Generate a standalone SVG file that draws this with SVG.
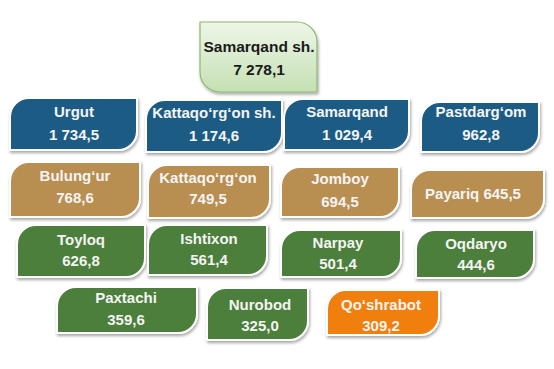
<svg xmlns="http://www.w3.org/2000/svg" width="554" height="369" viewBox="0 0 554 369">
<defs>
<linearGradient id="gTop" x1="0" y1="0" x2="0" y2="1">
<stop offset="0" stop-color="#EEF6E8"/>
<stop offset="1" stop-color="#C5E0B3"/>
</linearGradient>
<filter id="sh" x="-10%" y="-10%" width="125%" height="135%">
<feDropShadow dx="1" dy="2" stdDeviation="1.6" flood-color="#000" flood-opacity="0.35"/>
</filter>
<style>
.box{stroke:#FFFFFF;stroke-width:2;filter:url(#sh)}
.blue{fill:#1F5B84}
.tan{fill:#B98E51}
.green{fill:#4B7F3B}
.orange{fill:#F07F0A}
.top{fill:url(#gTop);stroke:#8DB870;stroke-width:1.2;filter:url(#sh)}
text{font-family:"Liberation Sans",Arial,sans-serif;font-weight:bold;text-anchor:middle}
.t{font-size:15px;fill:#F4F4F4}
.tt{font-size:15.5px;fill:#1A1A1A}
</style>
</defs>
<g id="connectors"></g>
<g id="n-samarqand-sh">
<path class="top" d="M200,22 H297 A20,20 0 0 1 317,42 V92 H220 A20,20 0 0 1 200,72 Z"/>
<text class="tt" x="259" y="52">Samarqand sh.</text>
<text class="tt" x="259" y="75">7 278,1</text>
</g>
<g id="n-urgut">
<path class="box blue" d="M29,98 H137 V131 A19,19 0 0 1 118,150 H10 V117 A19,19 0 0 1 29,98 Z"/>
<text class="t" x="74" y="117">Urgut</text>
<text class="t" x="74" y="140">1 734,5</text>
</g>
<g id="n-kattaqorgon-sh">
<path class="box blue" d="M165,100 H282 V133 A19,19 0 0 1 263,152 H146 V119 A19,19 0 0 1 165,100 Z"/>
<text class="t" x="214" y="118">Kattaqo‘rg‘on sh.</text>
<text class="t" x="214" y="141">1 174,6</text>
</g>
<g id="n-samarqand">
<path class="box blue" d="M303,99 H409 V131 A19,19 0 0 1 390,150 H284 V118 A19,19 0 0 1 303,99 Z"/>
<text class="t" x="347" y="117">Samarqand</text>
<text class="t" x="347" y="140">1 029,4</text>
</g>
<g id="n-pastdargom">
<path class="box blue" d="M440,102 H539 V133 A19,19 0 0 1 520,152 H421 V121 A19,19 0 0 1 440,102 Z"/>
<text class="t" x="481" y="117">Pastdarg‘om</text>
<text class="t" x="481" y="140">962,8</text>
</g>
<g id="n-bulungur">
<path class="box tan" d="M29,162 H140 V198 A19,19 0 0 1 121,217 H10 V181 A19,19 0 0 1 29,162 Z"/>
<text class="t" x="75" y="181">Bulung‘ur</text>
<text class="t" x="75" y="203">768,6</text>
</g>
<g id="n-kattaqorgon">
<path class="box tan" d="M167,165 H270 V199 A19,19 0 0 1 251,218 H148 V184 A19,19 0 0 1 167,165 Z"/>
<text class="t" x="208" y="183">Kattaqo‘rg‘on</text>
<text class="t" x="208" y="204">749,5</text>
</g>
<g id="n-jomboy">
<path class="box tan" d="M300,167 H399 V198 A19,19 0 0 1 380,217 H281 V186 A19,19 0 0 1 300,167 Z"/>
<text class="t" x="340" y="184">Jomboy</text>
<text class="t" x="340" y="207">694,5</text>
</g>
<g id="n-payariq">
<path class="box tan" d="M430,170 H544 V199 A19,19 0 0 1 525,218 H411 V189 A19,19 0 0 1 430,170 Z"/>
<text class="t" x="473" y="199">Payariq 645,5</text>
</g>
<g id="n-toyloq">
<path class="box green" d="M36,225 H145 V258 A19,19 0 0 1 126,277 H17 V244 A19,19 0 0 1 36,225 Z"/>
<text class="t" x="81" y="245">Toyloq</text>
<text class="t" x="81" y="266">626,8</text>
</g>
<g id="n-ishtixon">
<path class="box green" d="M167,225 H267 V256 A19,19 0 0 1 248,275 H148 V244 A19,19 0 0 1 167,225 Z"/>
<text class="t" x="209" y="244">Ishtixon</text>
<text class="t" x="209" y="265">561,4</text>
</g>
<g id="n-narpay">
<path class="box green" d="M300,230 H401 V258 A19,19 0 0 1 382,277 H281 V249 A19,19 0 0 1 300,230 Z"/>
<text class="t" x="338" y="248">Narpay</text>
<text class="t" x="338" y="269">501,4</text>
</g>
<g id="n-oqdaryo">
<path class="box green" d="M435,230 H534 V259 A19,19 0 0 1 515,278 H416 V249 A19,19 0 0 1 435,230 Z"/>
<text class="t" x="476" y="249">Oqdaryo</text>
<text class="t" x="476" y="270">444,6</text>
</g>
<g id="n-paxtachi">
<path class="box green" d="M76,287 H197 V314 A19,19 0 0 1 178,333 H57 V306 A19,19 0 0 1 76,287 Z"/>
<text class="t" x="126" y="303">Paxtachi</text>
<text class="t" x="126" y="325">359,6</text>
</g>
<g id="n-nurobod">
<path class="box green" d="M226,288 H308 V321 A19,19 0 0 1 289,340 H207 V307 A19,19 0 0 1 226,288 Z"/>
<text class="t" x="260" y="310">Nurobod</text>
<text class="t" x="260" y="331">325,0</text>
</g>
<g id="n-qoshrabot">
<path class="box orange" d="M346,290 H439 V316 A19,19 0 0 1 420,335 H327 V309 A19,19 0 0 1 346,290 Z"/>
<text class="t" x="381" y="310">Qo‘shrabot</text>
<text class="t" x="381" y="331">309,2</text>
</g>
</svg>
